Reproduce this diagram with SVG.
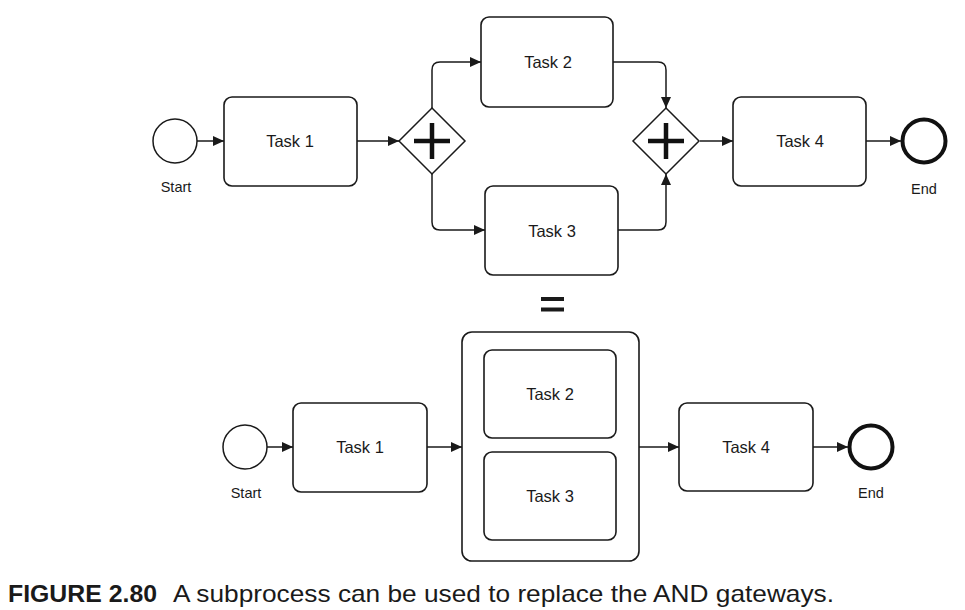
<svg xmlns="http://www.w3.org/2000/svg" width="965" height="610" viewBox="0 0 965 610">
<style>
.task{fill:#fff;stroke:#1a1a1a;stroke-width:1.6}
.lbl{font-family:"Liberation Sans",Arial,sans-serif;font-size:16.5px;fill:#1a1a1a;text-anchor:middle;dominant-baseline:central}
.sm{font-family:"Liberation Sans",Arial,sans-serif;font-size:14.5px;fill:#1a1a1a;text-anchor:middle}
.ev{fill:#fff;stroke:#1a1a1a;stroke-width:1.5}
.end{fill:#fff;stroke:#111;stroke-width:4}
.gw{fill:#fff;stroke:#1a1a1a;stroke-width:1.5}
.plus{stroke:#111;stroke-width:4.5;fill:none}
.flow{fill:none;stroke:#1a1a1a;stroke-width:1.5;marker-end:url(#arr)}
</style>
<defs>
<marker id="arr" viewBox="0 0 11 10" refX="11" refY="5" markerWidth="11" markerHeight="10" markerUnits="userSpaceOnUse" orient="auto">
<path d="M0,0 L11,5 L0,10 Z" fill="#1a1a1a"/>
</marker>
</defs>
<rect width="965" height="610" fill="#fff"/>

<g id="connectors">
<path class="flow" d="M197,141 H224"/>
<path class="flow" d="M357,141 H399"/>
<path class="flow" d="M432,108 V70 Q432,62 440,62 H481"/>
<path class="flow" d="M432,174 V222 Q432,230 440,230 H485"/>
<path class="flow" d="M613,62 H658 Q666,62 666,70 V108"/>
<path class="flow" d="M618,230 H658 Q666,230 666,222 V174"/>
<path class="flow" d="M700,141 H733"/>
<path class="flow" d="M866,141 H901"/>
<path class="flow" d="M267,447 H293"/>
<path class="flow" d="M427,447 H462"/>
<path class="flow" d="M639,447 H679"/>
<path class="flow" d="M813,447 H848"/>
</g>

<g id="start1"><circle class="ev" cx="175" cy="141" r="22"/><text class="sm" x="176" y="192">Start</text></g>
<g id="task1a"><rect class="task" x="224" y="97" width="133" height="89" rx="8"/><text class="lbl" x="290" y="141">Task 1</text></g>
<g id="gw1"><path class="gw" d="M432,108 L465,141 L432,174 L399,141 Z"/><path class="plus" d="M414,141 H450 M432,123 V159"/></g>
<g id="task2a"><rect class="task" x="481" y="17" width="132" height="90" rx="8"/><text class="lbl" x="548" y="62">Task 2</text></g>
<g id="task3a"><rect class="task" x="485" y="186" width="133" height="89" rx="8"/><text class="lbl" x="552" y="231">Task 3</text></g>
<g id="gw2"><path class="gw" d="M666,108 L699,141 L666,174 L633,141 Z"/><path class="plus" d="M648,141 H684 M666,123 V159"/></g>
<g id="task4a"><rect class="task" x="733" y="97" width="133" height="89" rx="8"/><text class="lbl" x="800" y="141">Task 4</text></g>
<g id="end1"><circle class="end" cx="924" cy="141" r="21.5"/><text class="sm" x="924" y="194">End</text></g>

<g id="equals"><rect x="541" y="297" width="23" height="4" fill="#1a1a1a"/><rect x="541" y="307.5" width="23" height="4" fill="#1a1a1a"/></g>

<g id="start2"><circle class="ev" cx="245" cy="447" r="22"/><text class="sm" x="246" y="498">Start</text></g>
<g id="task1b"><rect class="task" x="293" y="403" width="134" height="89" rx="8"/><text class="lbl" x="360" y="447">Task 1</text></g>
<g id="subprocess"><rect class="task" x="462" y="332" width="177" height="229" rx="10"/>
<g id="task2b"><rect class="task" x="484" y="350" width="132" height="88" rx="8"/><text class="lbl" x="550" y="394">Task 2</text></g>
<g id="task3b"><rect class="task" x="484" y="452" width="132" height="88" rx="8"/><text class="lbl" x="550" y="496">Task 3</text></g>
</g>
<g id="task4b"><rect class="task" x="679" y="403" width="134" height="88" rx="8"/><text class="lbl" x="746" y="447">Task 4</text></g>
<g id="end2"><circle class="end" cx="871" cy="447" r="21.5"/><text class="sm" x="871" y="498">End</text></g>

<g id="caption" font-family="'Liberation Sans',Arial,sans-serif" font-size="24" fill="#1a1a1a">
<text x="8" y="602" font-weight="bold" textLength="149" lengthAdjust="spacingAndGlyphs">FIGURE 2.80</text>
<text x="173" y="602" textLength="661" lengthAdjust="spacingAndGlyphs">A subprocess can be used to replace the AND gateways.</text>
</g>
</svg>
